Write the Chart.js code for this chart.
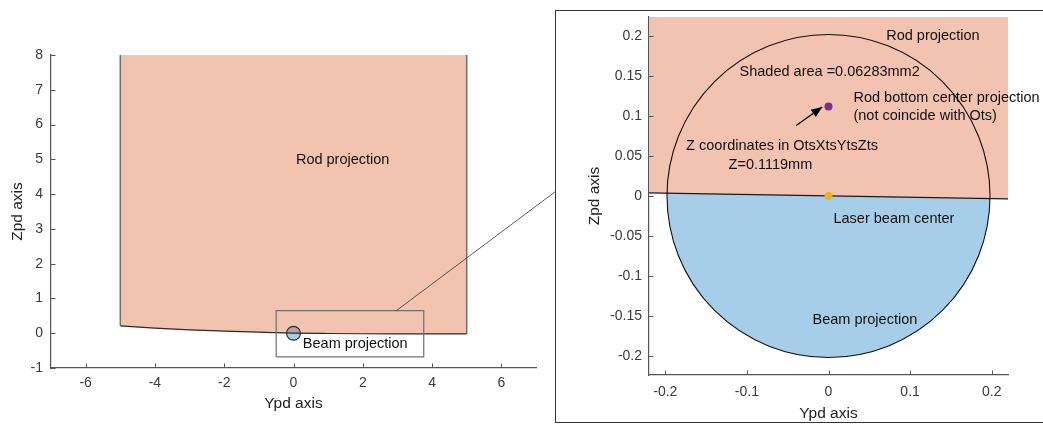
<!DOCTYPE html>
<html>
<head>
<meta charset="utf-8">
<title>Rod and beam projection</title>
<script src="https://cdn.jsdelivr.net/npm/chart.js@4.4.1/dist/chart.umd.min.js"></script>
<style>
  html, body { margin: 0; padding: 0; background: #fff; width: 1043px; height: 424px; overflow: hidden; }
  #wrap { position: relative; width: 1043px; height: 424px; }
  canvas { position: absolute; left: 0; top: 0; }
  #insetFrame { position: absolute; left: 555px; top: 10px; width: 540px; height: 411px;
                border: 1px solid #333; background: #fff; }
</style>
</head>
<body>
<div id="wrap">
  <canvas id="overview" width="1043" height="424" style="width:1043px;height:424px"></canvas>
  <div id="insetFrame"></div>
  <canvas id="inset" width="1043" height="424" style="width:1043px;height:424px"></canvas>
</div>
<script>
// ---------- Overview panel (Ypd / Zpd) ----------
const overviewXTicks = [-6, -4, -2, 0, 2, 4, 6];
const overviewYTicks = [-1, 0, 1, 2, 3, 4, 5, 6, 7, 8];

// lower edge of the rod projection
const rodEdgeY = [-5, -4, -3, -2, -1, 0, 1, 2, 3, 4, 5];
const rodEdgeZ = [0.21, 0.145, 0.095, 0.06, 0.03, 0.004, -0.008, -0.015, -0.018, -0.02, -0.02];
const rodTopZ = 8;

// laser beam footprint
const beamCenterY = 0;
const beamCenterZ = 0;
const beamRadius = 0.2;

// zoom window and its leader line
const zoomBoxY = [-0.5, 3.76, 3.76, -0.5, -0.5];
const zoomBoxZ = [-0.68, -0.68, 0.65, 0.65, -0.68];
const leaderY = [2.97, 8.0];
const leaderZ = [0.65, 4.4];

// ---------- Inset panel ----------
const insetXTicks = [-0.2, -0.1, 0, 0.1, 0.2];
const insetYTicks = [-0.2, -0.15, -0.1, -0.05, 0, 0.05, 0.1, 0.15, 0.2];
const insetEdgeY = [-0.22, 0.22];
const insetEdgeZ = [0.004, -0.0035];

const rodCenterY = 0;
const rodCenterZ = 0.1119;
const shadedArea = 0.06283;

const arrowTail = [-0.0396, 0.0883];
const arrowTip = [-0.0077, 0.1114];

// label anchors (data coordinates, left aligned)
const overviewNotes = [
  { text: 'Rod projection', y: 0.07, z: 4.98 },
  { text: 'Beam projection', y: 0.27, z: -0.31 }
];
const insetNotes = [
  { text: 'Rod projection', y: 0.0707, z: 0.2 },
  { text: 'Shaded area =' + shadedArea + 'mm2', y: -0.109, z: 0.155 },
  { text: 'Rod bottom center projection', y: 0.0306, z: 0.123 },
  { text: '(not coincide with Ots)', y: 0.0306, z: 0.0995 },
  { text: 'Z coordinates in OtsXtsYtsZts', y: -0.1745, z: 0.0622 },
  { text: 'Z=' + rodCenterZ + 'mm', y: -0.1225, z: 0.0393 },
  { text: 'Laser beam center', y: 0.0061, z: -0.0285 },
  { text: 'Beam projection', y: -0.0196, z: -0.155 }
];

// ---------- styling ----------
const FONT = "'Liberation Sans', Arial, Helvetica, sans-serif";
const AXIS = '#555';
const TICK_TEXT = '#3a3a3a';
const SALMON = '#F1C3B0';
const SALMON_SHEER = 'rgba(217,83,25,0.35)';
const BLUE = '#A7CEE8';
const PURPLE = '#7E2F8E';
const ORANGE = '#EDB120';

const pts = (xs, ys) => xs.map((x, i) => ({ x, y: ys[i] }));

function radiusPx(chart, r) {
  const { x, y } = chart.scales;
  const rx = x.getPixelForValue(r) - x.getPixelForValue(0);
  const ry = y.getPixelForValue(0) - y.getPixelForValue(r);
  return (rx + ry) / 2;
}

// MATLAB-style ticks pointing into the plot
const innerTicks = {
  id: 'innerTicks',
  afterDraw(chart) {
    const { ctx, chartArea: a, scales: { x, y } } = chart;
    ctx.save();
    ctx.strokeStyle = AXIS;
    ctx.lineWidth = 1;
    ctx.beginPath();
    x.ticks.forEach(t => {
      const px = Math.round(x.getPixelForValue(t.value)) + 0.5;
      ctx.moveTo(px, a.bottom);
      ctx.lineTo(px, a.bottom - 4.5);
    });
    y.ticks.forEach(t => {
      const py = Math.round(y.getPixelForValue(t.value)) + 0.5;
      ctx.moveTo(a.left, py);
      ctx.lineTo(a.left + 4.5, py);
    });
    ctx.stroke();
    ctx.restore();
  }
};

function notesPlugin(notes, arrow) {
  return {
    id: 'notes',
    afterDatasetsDraw(chart) {
      const { ctx, scales: { x, y } } = chart;
      ctx.save();
      if (arrow) {
        const x0 = x.getPixelForValue(arrow[0][0]), y0 = y.getPixelForValue(arrow[0][1]);
        const x1 = x.getPixelForValue(arrow[1][0]), y1 = y.getPixelForValue(arrow[1][1]);
        const ang = Math.atan2(y1 - y0, x1 - x0);
        const len = 11, half = 4.5;
        ctx.fillStyle = '#000';
        ctx.beginPath();
        ctx.moveTo(x1, y1);
        ctx.lineTo(x1 - len * Math.cos(ang) + half * Math.sin(ang), y1 - len * Math.sin(ang) - half * Math.cos(ang));
        ctx.lineTo(x1 - len * Math.cos(ang) - half * Math.sin(ang), y1 - len * Math.sin(ang) + half * Math.cos(ang));
        ctx.closePath();
        ctx.fill();
      }
      ctx.fillStyle = '#111';
      ctx.font = '14.5px ' + FONT;
      ctx.textAlign = 'left';
      ctx.textBaseline = 'middle';
      notes.forEach(n => ctx.fillText(n.text, x.getPixelForValue(n.y), y.getPixelForValue(n.z)));
      ctx.restore();
    }
  };
}

function axisOptions(o) {
  return {
    type: 'linear',
    min: o.min, max: o.max,
    afterBuildTicks: s => { s.ticks = o.ticks.map(v => ({ value: v })); },
    afterFit: s => { if (o.width) s.width = o.width; if (o.height) s.height = o.height; },
    grid: { display: false, drawTicks: false, tickLength: 0 },
    border: { display: true, color: AXIS, width: 1.2 },
    ticks: {
      color: TICK_TEXT, padding: o.tickPad, font: { family: FONT, size: 14 },
      callback: v => String(+Number(v).toFixed(3))
    },
    title: {
      display: true, text: o.title, color: '#222',
      font: { family: FONT, size: 15.5 }, padding: o.titlePad
    }
  };
}

const common = {
  responsive: false,
  devicePixelRatio: 1,
  animation: false,
  events: [],
  plugins: { legend: { display: false }, tooltip: { enabled: false } }
};

// ---------- overview chart ----------
new Chart(document.getElementById('overview'), {
  type: 'line',
  data: {
    datasets: [
      {
        label: 'Beam', data: [{ x: beamCenterY, y: beamCenterZ }], showLine: false,
        pointRadius: c => radiusPx(c.chart, beamRadius), pointBackgroundColor: BLUE,
        pointBorderWidth: 0, pointBorderColor: 'transparent', order: 9
      },
      {
        label: 'Rod', data: pts(rodEdgeY, rodEdgeZ), fill: 'end',
        backgroundColor: SALMON_SHEER, borderColor: '#2a2a2a', borderWidth: 1.2,
        cubicInterpolationMode: 'monotone', pointRadius: 0, order: 8
      },
      {
        label: 'Rod left side', data: [{ x: rodEdgeY[0], y: rodEdgeZ[0] }, { x: rodEdgeY[0], y: rodTopZ }],
        borderColor: '#6a6a6a', borderWidth: 1.4, pointRadius: 0, fill: false, order: 7
      },
      {
        label: 'Rod right side',
        data: [{ x: rodEdgeY[rodEdgeY.length - 1], y: rodEdgeZ[rodEdgeZ.length - 1] }, { x: rodEdgeY[rodEdgeY.length - 1], y: rodTopZ }],
        borderColor: '#6a6a6a', borderWidth: 1.4, pointRadius: 0, fill: false, order: 6
      },
      {
        label: 'Beam outline', data: [{ x: beamCenterY, y: beamCenterZ }], showLine: false,
        pointRadius: c => radiusPx(c.chart, beamRadius), pointBackgroundColor: 'transparent',
        pointBorderColor: '#2a2a2a', pointBorderWidth: 1.2, order: 5
      },
      {
        label: 'Zoom window', data: pts(zoomBoxY, zoomBoxZ),
        borderColor: '#707070', borderWidth: 1.2, pointRadius: 0, fill: false, order: 4
      },
      {
        label: 'Leader', data: pts(leaderY, leaderZ), clip: false,
        borderColor: '#333', borderWidth: 0.8, pointRadius: 0, fill: false, order: 3
      }
    ]
  },
  options: Object.assign({}, common, {
    layout: { padding: { left: 0, top: 55, right: 507, bottom: 0 } },
    scales: {
      x: axisOptions({ min: -7, max: 7, ticks: overviewXTicks, height: 56, tickPad: 7,
                       title: 'Ypd axis', titlePad: { top: 0, bottom: 11 } }),
      y: axisOptions({ min: -1, max: 8, ticks: overviewYTicks, width: 51, tickPad: 8,
                       title: 'Zpd axis', titlePad: { top: 8, bottom: 0 } })
    }
  }),
  plugins: [innerTicks, notesPlugin(overviewNotes, null)]
});

// ---------- inset chart ----------
new Chart(document.getElementById('inset'), {
  type: 'line',
  data: {
    datasets: [
      {
        label: 'Beam', data: [{ x: beamCenterY, y: beamCenterZ }], showLine: false,
        pointRadius: c => radiusPx(c.chart, beamRadius), pointBackgroundColor: BLUE,
        pointBorderWidth: 0, pointBorderColor: 'transparent', order: 9
      },
      {
        label: 'Rod', data: pts(insetEdgeY, insetEdgeZ), fill: 'end',
        backgroundColor: SALMON, borderColor: '#1a1a1a', borderWidth: 1.2, pointRadius: 0, order: 8
      },
      {
        label: 'Beam outline', data: [{ x: beamCenterY, y: beamCenterZ }], showLine: false,
        pointRadius: c => radiusPx(c.chart, beamRadius), pointBackgroundColor: 'transparent',
        pointBorderColor: '#111', pointBorderWidth: 1.1, order: 7
      },
      {
        label: 'Arrow', data: [{ x: arrowTail[0], y: arrowTail[1] }, { x: arrowTip[0], y: arrowTip[1] }],
        borderColor: '#000', borderWidth: 1.3, pointRadius: 0, fill: false, order: 6
      },
      {
        label: 'Rod bottom center', data: [{ x: rodCenterY, y: rodCenterZ }], showLine: false,
        pointRadius: 4, pointBackgroundColor: PURPLE, pointBorderColor: PURPLE, pointBorderWidth: 0, order: 5
      },
      {
        label: 'Laser beam center', data: [{ x: beamCenterY, y: beamCenterZ }], showLine: false,
        pointRadius: 4, pointBackgroundColor: ORANGE, pointBorderColor: ORANGE, pointBorderWidth: 0, order: 4
      }
    ]
  },
  options: Object.assign({}, common, {
    layout: { padding: { left: 560, top: 17, right: 35, bottom: 0 } },
    scales: {
      x: axisOptions({ min: -0.22, max: 0.22, ticks: insetXTicks, height: 49, tickPad: 9,
                       title: 'Ypd axis', titlePad: { top: 0, bottom: 1 } }),
      y: axisOptions({ min: -0.224, max: 0.224, ticks: insetYTicks, width: 89, tickPad: 7,
                       title: 'Zpd axis', titlePad: { top: 25, bottom: 0 } })
    }
  }),
  plugins: [innerTicks, notesPlugin(insetNotes, [arrowTail, arrowTip])]
});
</script>
</body>
</html>
